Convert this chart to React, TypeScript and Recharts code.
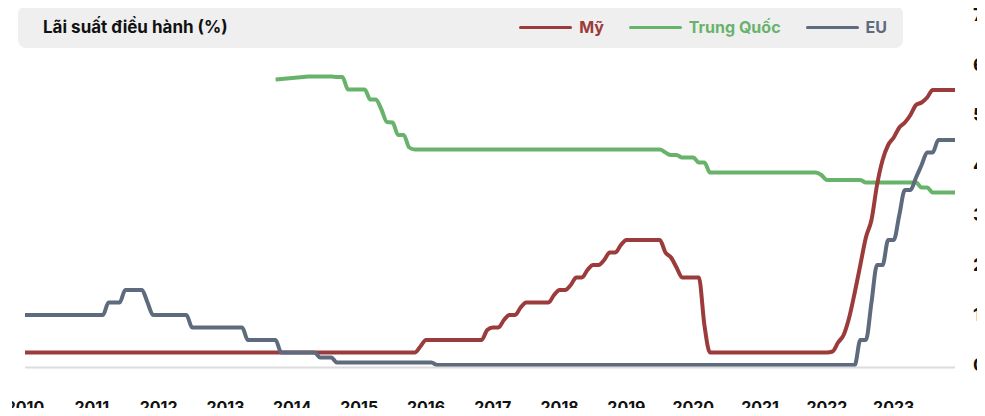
import React from 'react';
import { Line, LineChart, XAxis, YAxis } from 'recharts';

// Lãi suất điều hành theo tháng, 01/2010 - 12/2023
const years = [2010, 2011, 2012, 2013, 2014, 2015, 2016, 2017, 2018, 2019, 2020, 2021, 2022, 2023];
const months = years.flatMap((y) =>
  ['01', '02', '03', '04', '05', '06', '07', '08', '09', '10', '11', '12'].map((m) => `${y}-${m}`)
);
const yTicks = [0, 1, 2, 3, 4, 5, 6, 7];

// Mỹ
const usRates = [
  0.25, 0.25, 0.25, 0.25, 0.25, 0.25, 0.25, 0.25, 0.25, 0.25, 0.25, 0.25, // 2010
  0.25, 0.25, 0.25, 0.25, 0.25, 0.25, 0.25, 0.25, 0.25, 0.25, 0.25, 0.25, // 2011
  0.25, 0.25, 0.25, 0.25, 0.25, 0.25, 0.25, 0.25, 0.25, 0.25, 0.25, 0.25, // 2012
  0.25, 0.25, 0.25, 0.25, 0.25, 0.25, 0.25, 0.25, 0.25, 0.25, 0.25, 0.25, // 2013
  0.25, 0.25, 0.25, 0.25, 0.25, 0.25, 0.25, 0.25, 0.25, 0.25, 0.25, 0.25, // 2014
  0.25, 0.25, 0.25, 0.25, 0.25, 0.25, 0.25, 0.25, 0.25, 0.25, 0.25, 0.37, // 2015
  0.5, 0.5, 0.5, 0.5, 0.5, 0.5, 0.5, 0.5, 0.5, 0.5, 0.5, 0.7, // 2016
  0.75, 0.75, 0.9, 1.0, 1.0, 1.15, 1.25, 1.25, 1.25, 1.25, 1.25, 1.4, // 2017
  1.5, 1.5, 1.6, 1.75, 1.75, 1.9, 2.0, 2.0, 2.1, 2.25, 2.25, 2.4, // 2018
  2.5, 2.5, 2.5, 2.5, 2.5, 2.5, 2.5, 2.25, 2.15, 1.95, 1.75, 1.75, // 2019
  1.75, 1.75, 0.8, 0.25, 0.25, 0.25, 0.25, 0.25, 0.25, 0.25, 0.25, 0.25, // 2020
  0.25, 0.25, 0.25, 0.25, 0.25, 0.25, 0.25, 0.25, 0.25, 0.25, 0.25, 0.25, // 2021
  0.25, 0.27, 0.45, 0.6, 0.95, 1.45, 2.0, 2.55, 2.9, 3.6, 4.1, 4.4, // 2022
  4.55, 4.75, 4.85, 5.0, 5.2, 5.25, 5.35, 5.5, 5.5, 5.5, 5.5, 5.5, // 2023
];

// Trung Quốc (LPR 1 năm, bắt đầu 10/2013)
const cnRates = [
  null, null, null, null, null, null, null, null, null, null, null, null, // 2010
  null, null, null, null, null, null, null, null, null, null, null, null, // 2011
  null, null, null, null, null, null, null, null, null, null, null, null, // 2012
  null, null, null, null, null, null, null, null, null, 5.71, 5.72, 5.73, // 2013
  5.74, 5.75, 5.76, 5.77, 5.77, 5.77, 5.77, 5.77, 5.76, 5.76, 5.51, 5.51, // 2014
  5.51, 5.51, 5.31, 5.31, 5.11, 4.86, 4.85, 4.6, 4.6, 4.35, 4.31, 4.31, // 2015
  4.31, 4.31, 4.31, 4.31, 4.31, 4.31, 4.31, 4.31, 4.31, 4.31, 4.31, 4.31, // 2016
  4.31, 4.31, 4.31, 4.31, 4.31, 4.31, 4.31, 4.31, 4.31, 4.31, 4.31, 4.31, // 2017
  4.31, 4.31, 4.31, 4.31, 4.31, 4.31, 4.31, 4.31, 4.31, 4.31, 4.31, 4.31, // 2018
  4.31, 4.31, 4.31, 4.31, 4.31, 4.31, 4.31, 4.25, 4.2, 4.2, 4.15, 4.15, // 2019
  4.15, 4.05, 4.05, 3.85, 3.85, 3.85, 3.85, 3.85, 3.85, 3.85, 3.85, 3.85, // 2020
  3.85, 3.85, 3.85, 3.85, 3.85, 3.85, 3.85, 3.85, 3.85, 3.85, 3.85, 3.8, // 2021
  3.7, 3.7, 3.7, 3.7, 3.7, 3.7, 3.7, 3.65, 3.65, 3.65, 3.65, 3.65, // 2022
  3.65, 3.65, 3.65, 3.65, 3.65, 3.55, 3.55, 3.45, 3.45, 3.45, 3.45, 3.45, // 2023
];

// EU
const euRates = [
  1.0, 1.0, 1.0, 1.0, 1.0, 1.0, 1.0, 1.0, 1.0, 1.0, 1.0, 1.0, // 2010
  1.0, 1.0, 1.0, 1.25, 1.25, 1.25, 1.5, 1.5, 1.5, 1.5, 1.25, 1.0, // 2011
  1.0, 1.0, 1.0, 1.0, 1.0, 1.0, 0.75, 0.75, 0.75, 0.75, 0.75, 0.75, // 2012
  0.75, 0.75, 0.75, 0.75, 0.5, 0.5, 0.5, 0.5, 0.5, 0.5, 0.25, 0.25, // 2013
  0.25, 0.25, 0.25, 0.25, 0.25, 0.15, 0.15, 0.15, 0.05, 0.05, 0.05, 0.05, // 2014
  0.05, 0.05, 0.05, 0.05, 0.05, 0.05, 0.05, 0.05, 0.05, 0.05, 0.05, 0.05, // 2015
  0.05, 0.05, 0, 0, 0, 0, 0, 0, 0, 0, 0, 0, // 2016
  0, 0, 0, 0, 0, 0, 0, 0, 0, 0, 0, 0, // 2017
  0, 0, 0, 0, 0, 0, 0, 0, 0, 0, 0, 0, // 2018
  0, 0, 0, 0, 0, 0, 0, 0, 0, 0, 0, 0, // 2019
  0, 0, 0, 0, 0, 0, 0, 0, 0, 0, 0, 0, // 2020
  0, 0, 0, 0, 0, 0, 0, 0, 0, 0, 0, 0, // 2021
  0, 0, 0, 0, 0, 0, 0.5, 0.5, 1.25, 2.0, 2.0, 2.5, // 2022
  2.5, 3.0, 3.5, 3.5, 3.75, 4.0, 4.25, 4.25, 4.5, 4.5, 4.5, 4.5, // 2023
];

const series = [
  { key: 'us', name: 'Mỹ', color: '#9b3b3b' },
  { key: 'cn', name: 'Trung Quốc', color: '#68b36b' },
  { key: 'eu', name: 'EU', color: '#5e6a7d' },
];

// ve TQ truoc, EU sau cung (nam tren)
const drawOrder = ['cn', 'us', 'eu'];

const data = months.map((month, i) => ({
  month,
  us: usRates[i],
  cn: cnRates[i],
  eu: euRates[i],
}));

const FONT = 'Inter, "Noto Sans", sans-serif';

const App = () => {
  return (
    <div
      style={{
        position: 'relative',
        width: 985,
        height: 416,
        margin: -8,
        overflow: 'hidden',
        background: '#fff',
        fontFamily: FONT,
      }}
    >
      <div style={{ position: 'absolute', left: 12, top: 0, width: 973, height: 416, overflow: 'hidden' }}>
        <div style={{ marginLeft: -12 }}>
          <LineChart width={1010} height={416} data={data} margin={{ top: 15, right: 0, bottom: 0, left: 25 }}>
            <XAxis
              dataKey="month"
              interval={11}
              tickFormatter={(v: string) => v.slice(0, 4)}
              axisLine={{ stroke: '#dcdcdc', strokeWidth: 2 }}
              tickLine={false}
              tickSize={6}
              tickMargin={28}
              height={48.5}
              tick={{ fill: '#111', fontSize: 16, fontWeight: 700, fontFamily: FONT }}
            />
            <YAxis
              orientation="right"
              domain={[-0.05, 7]}
              ticks={yTicks}
              width={55}
              axisLine={false}
              tickLine={false}
              tickSize={6}
              tickMargin={12}
              tick={{ fill: '#111', fontSize: 18, fontWeight: 700, fontFamily: FONT, textAnchor: 'start' }}
            />
            {drawOrder.map((k) => {
              const s = series.find((x) => x.key === k)!;
              return (
                <Line
                  key={s.key}
                  type="monotone"
                  dataKey={s.key}
                  name={s.name}
                  stroke={s.color}
                  strokeWidth={4}
                  dot={false}
                  activeDot={false}
                  isAnimationActive={false}
                />
              );
            })}
          </LineChart>
        </div>
      </div>

      <div
        style={{
          position: 'absolute',
          left: 18,
          top: 6,
          width: 885,
          height: 42,
          borderRadius: 8,
          background: '#efefef',
          display: 'flex',
          alignItems: 'center',
          justifyContent: 'space-between',
          padding: '0 16px 0 25px',
          boxSizing: 'border-box',
        }}
      >
        <div style={{ fontSize: 17, fontWeight: 700, color: '#111' }}>Lãi suất điều hành (%)</div>
        <div style={{ display: 'flex', alignItems: 'center' }}>
          {series.map((s, i) => (
            <div key={s.key} style={{ display: 'flex', alignItems: 'center', marginLeft: i === 0 ? 0 : 25 }}>
              <div style={{ width: 53, height: 3, borderRadius: 2, background: s.color, marginRight: 7 }} />
              <span style={{ fontSize: 16, fontWeight: 700, color: s.color }}>{s.name}</span>
            </div>
          ))}
        </div>
      </div>
    </div>
  );
};

export default App;
